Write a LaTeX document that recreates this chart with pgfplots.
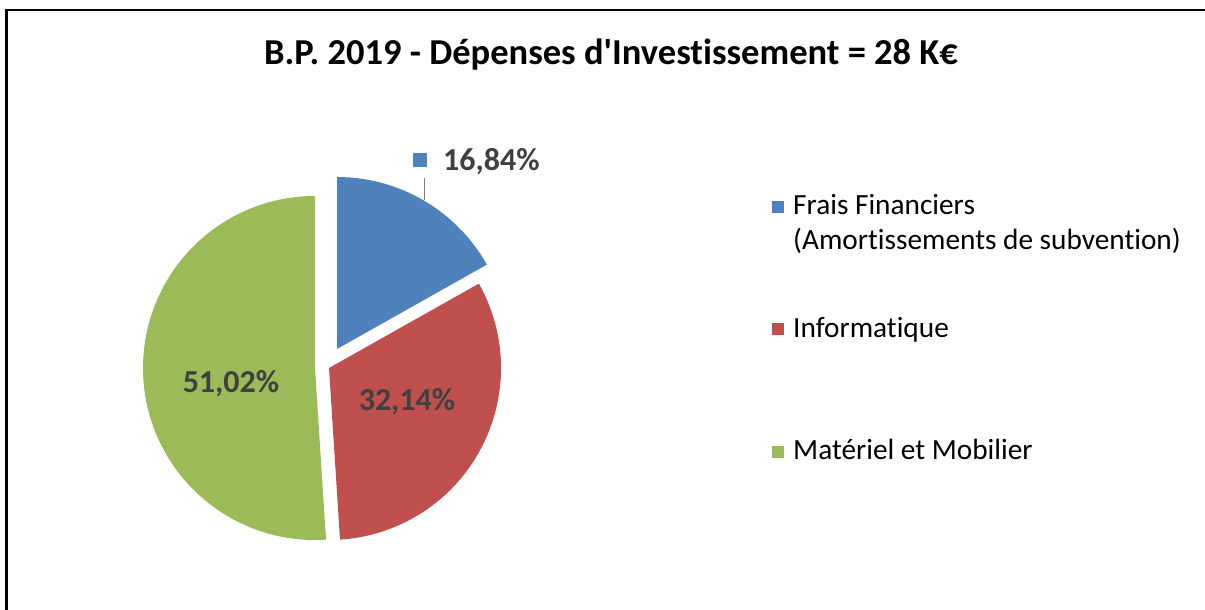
\documentclass[border=0pt]{standalone}
\usepackage{pgfplots}
\pgfplotsset{compat=1.18}
\usepackage{pgfplotstable}
\usepackage{fontspec}
\setmainfont{Carlito}[Ligatures={CommonOff,TeXOff}]
\definecolor{cBlue}{HTML}{4F81BD}
\definecolor{cRed}{HTML}{C0504D}
\definecolor{cGreen}{HTML}{9BBB59}
\definecolor{cLab}{HTML}{404040}
% value = share in percent; ax, ay = apex of the (exploded) slice
\pgfplotstableread{
label value ax ay
Frais 16.84 337 261
Info  32.14 329 242
Mat   51.02 315 242
}\piedata
\begin{document}
\begin{tikzpicture}
\pgfplotstablegetelem{0}{value}\of\piedata \let\vA\pgfplotsretval
\pgfplotstablegetelem{1}{value}\of\piedata \let\vB\pgfplotsretval
\pgfplotstablegetelem{2}{value}\of\piedata \let\vC\pgfplotsretval
\pgfplotstablegetelem{0}{ax}\of\piedata \let\xA\pgfplotsretval
\pgfplotstablegetelem{1}{ax}\of\piedata \let\xB\pgfplotsretval
\pgfplotstablegetelem{2}{ax}\of\piedata \let\xC\pgfplotsretval
\pgfplotstablegetelem{0}{ay}\of\piedata \let\yA\pgfplotsretval
\pgfplotstablegetelem{1}{ay}\of\piedata \let\yB\pgfplotsretval
\pgfplotstablegetelem{2}{ay}\of\piedata \let\yC\pgfplotsretval
\pgfmathsetmacro{\aA}{90}
\pgfmathsetmacro{\aB}{\aA-3.6*\vA}
\pgfmathsetmacro{\aC}{\aB-3.6*\vB}
\pgfmathsetmacro{\aD}{\aC-3.6*\vC}
\def\R{172}
\useasboundingbox (0,0) rectangle (1205pt,610pt);
\begin{axis}[
  x=1pt, y=1pt,
  xmin=0, xmax=1205, ymin=0, ymax=610,
  axis lines=none, clip=false,
  anchor=origin, at={(0,0)},
]
% frame (cropped)
\draw[line width=2.5pt, black] (axis cs:6.5,-5) -- (axis cs:6.5,600) -- (axis cs:1210,600);
% slices
\fill[cBlue]  (axis cs:\xA,\yA) -- ++(\aA:\R pt) arc[start angle=\aA, end angle=\aB, radius=\R pt] -- cycle;
\fill[cRed]   (axis cs:\xB,\yB) -- ++(\aB:\R pt) arc[start angle=\aB, end angle=\aC, radius=\R pt] -- cycle;
\fill[cGreen] (axis cs:\xC,\yC) -- ++(\aC:\R pt) arc[start angle=\aC, end angle=\aD, radius=\R pt] -- cycle;
% title
\node[anchor=base, font=\fontsize{36.5}{42}\selectfont\bfseries, inner sep=0pt]
  at (axis cs:611,545) {B.P. 2019 - Dépenses d'Investissement = 28 K€};
% data labels
\node[anchor=base, font=\fontsize{32}{38}\selectfont\bfseries, text=cLab, inner sep=0pt]
  at (axis cs:231,217) {51,02\%};
\node[anchor=base, font=\fontsize{32}{38}\selectfont\bfseries, text=cLab, inner sep=0pt]
  at (axis cs:407,199) {32,14\%};
\node[anchor=base west, font=\fontsize{32}{38}\selectfont\bfseries, text=cLab, inner sep=0pt]
  at (axis cs:443,439) {16,84\%};
\fill[cBlue] (axis cs:413,443) rectangle (axis cs:427,457);
\draw[line width=1pt, gray] (axis cs:424,432) -- (axis cs:424,410);
% legend
\fill[cBlue]  (axis cs:772,397) rectangle (axis cs:784,409);
\fill[cRed]   (axis cs:772,274.5) rectangle (axis cs:784,286.5);
\fill[cGreen] (axis cs:772,152) rectangle (axis cs:784,164);
\node[anchor=base west, font=\fontsize{29.3}{34}\selectfont, inner sep=0pt] at (axis cs:793,395) {Frais Financiers};
\node[anchor=base west, font=\fontsize{29.3}{34}\selectfont, inner sep=0pt] at (axis cs:793,360) {(Amortissements de subvention)};
\node[anchor=base west, font=\fontsize{29.3}{34}\selectfont, inner sep=0pt] at (axis cs:793,272) {Informatique};
\node[anchor=base west, font=\fontsize{29.3}{34}\selectfont, inner sep=0pt] at (axis cs:793,150) {Matériel et Mobilier};
\end{axis}
\end{tikzpicture}
\end{document}
